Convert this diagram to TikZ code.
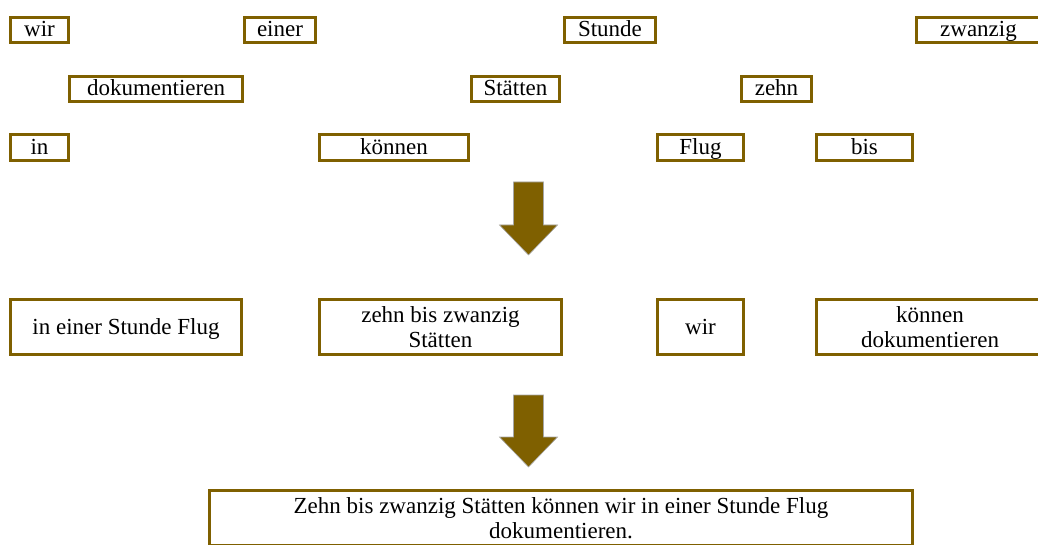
\documentclass[tikz,border=0pt]{standalone}
\usepackage{fontspec}
\setmainfont{Liberation Serif}
\usetikzlibrary{math}
\definecolor{olivebrown}{RGB}{127,96,0}

\begin{document}
\begin{tikzpicture}[x=1pt,y=-1pt,
    word/.style={draw=olivebrown, line width=3pt, fill=white, inner sep=0pt,
      align=center, font=\fontsize{23}{25}\selectfont},
    single/.style={word, text height=17pt, text depth=3pt},
    blockarrow/.style={fill=olivebrown, draw=gray!70, line width=0.6pt}]
      \useasboundingbox (0,0) rectangle (1038,545);
      % first row of loose words
      \node[single, minimum width=58pt, minimum height=25pt] (wirA) at (39.5,30) {wir};
      \node[single, minimum width=71pt, minimum height=25pt] (einerA) at (280,30) {einer};
      \node[single, minimum width=91pt, minimum height=25pt] (stundeA) at (610,30) {Stunde};
      \node[single, minimum width=124pt, minimum height=25pt] (zwanzigA) at (978.5,30) {zwanzig};
      \node[single, minimum width=173pt, minimum height=25pt] (dokuA) at (156,89) {dokumentieren};
      \node[single, minimum width=88pt, minimum height=25pt] (staettenA) at (515.5,89) {Stätten};
      \node[single, minimum width=70pt, minimum height=25pt] (zehnA) at (776.5,89) {zehn};
      \node[single, minimum width=58pt, minimum height=26pt] (inA) at (39.5,147.5) {in};
      \node[single, minimum width=149pt, minimum height=26pt] (koennenA) at (394,147.5) {können};
      \node[single, minimum width=86pt, minimum height=26pt] (flugA) at (700.5,147.5) {Flug};
      \node[single, minimum width=96pt, minimum height=26pt] (bisA) at (864.5,147.5) {bis};
      % first arrow
      \tikzmath{\ax = 528.5; \hs = 15; \hh = 29;}
      \draw[blockarrow, shift={(\ax,182)}] (-\hs,0) -- (\hs,0) -- (\hs,43) -- (\hh,43)
        -- (0,73) -- (-\hh,43) -- (-\hs,43) -- cycle;
      % groups of words
      \node[single, minimum width=231pt, minimum height=55pt] (groupA) at (126,327) {in einer Stunde Flug};
      \node[word, minimum width=242pt, minimum height=55pt] (groupB) at (440.5,327) {zehn bis zwanzig\\Stätten};
      \node[single, minimum width=86pt, minimum height=55pt] (groupC) at (700.5,327) {wir};
      \node[word, minimum width=227pt, minimum height=55pt] (groupD) at (930,327) {können\\dokumentieren};
      % second arrow
      \draw[blockarrow, shift={(\ax,395)}] (-\hs,0) -- (\hs,0) -- (\hs,42) -- (\hh,42)
        -- (0,72) -- (-\hh,42) -- (-\hs,42) -- cycle;
      % whole sentence
      \node[word, minimum width=703pt, minimum height=55pt] (sentence) at (561,518)
        {Zehn bis zwanzig Stätten können wir in einer Stunde Flug\\dokumentieren.};
\end{tikzpicture}
\end{document}
